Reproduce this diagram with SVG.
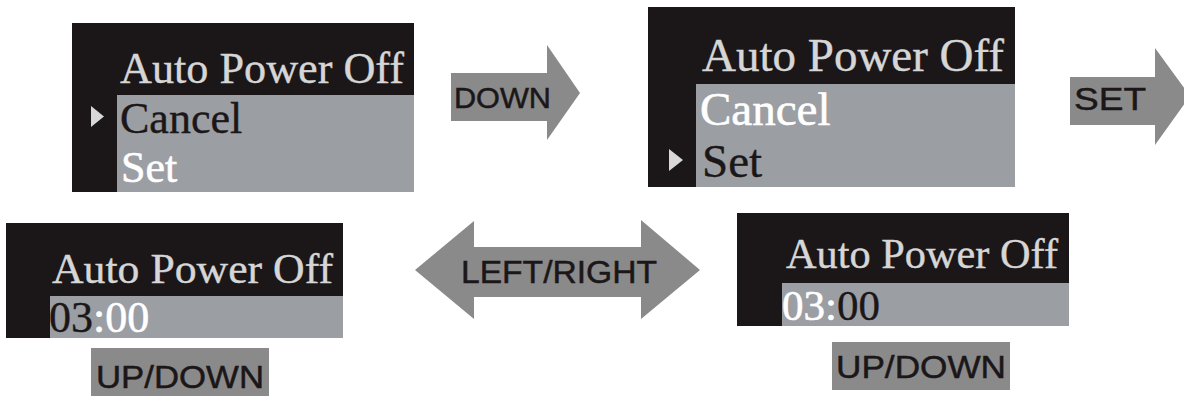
<svg xmlns="http://www.w3.org/2000/svg" width="1184" height="396" viewBox="0 0 1184 396">
<style>
.box{fill:#1b1718}
.sel{fill:#9b9ea3}
.ttl{font-family:"Liberation Serif","Times New Roman",serif;fill:#d6d6d6;stroke:#d6d6d6;stroke-width:0.4}
.itm{font-family:"Liberation Serif","Times New Roman",serif}
.dk{fill:#1b1718;stroke:#1b1718;stroke-width:0.4}
.wt{fill:#ffffff;stroke:#ffffff;stroke-width:0.6}
.ptr{fill:#d8d8d8}
.arw{fill:#8a8a8a}
.lbl{font-family:"Liberation Sans",Arial,sans-serif;fill:#1b1718;stroke:#1b1718;stroke-width:0.5}
</style>
<rect width="1184" height="396" fill="#ffffff"/>
<g id="menu-cancel">
<rect class="box" x="72" y="23" width="342" height="169"/>
<rect class="sel" x="117" y="95" width="297" height="97"/>
<text class="ttl" x="120" y="83" font-size="44" textLength="284" lengthAdjust="spacingAndGlyphs">Auto Power Off</text>
<polygon class="ptr" points="91,106 104,116.5 91,127"/>
<text class="itm dk" x="120" y="133" font-size="44">Cancel</text>
<text class="itm wt" x="121" y="182" font-size="44">Set</text>
</g>
<g id="menu-set">
<rect class="box" x="648" y="7" width="367" height="180"/>
<rect class="sel" x="696" y="84" width="319" height="103"/>
<text class="ttl" x="702" y="71" font-size="47" textLength="302" lengthAdjust="spacingAndGlyphs">Auto Power Off</text>
<text class="itm wt" x="700" y="125" font-size="47">Cancel</text>
<polygon class="ptr" points="669,149 683,160 669,171"/>
<text class="itm dk" x="702" y="177" font-size="47">Set</text>
</g>
<g id="time-left">
<rect class="box" x="6" y="223" width="337" height="115"/>
<rect class="sel" x="50" y="296" width="293" height="42"/>
<text class="ttl" x="52" y="283" font-size="43" textLength="281" lengthAdjust="spacingAndGlyphs">Auto Power Off</text>
<text class="itm" x="49" y="332" font-size="44"><tspan class="dk">03</tspan><tspan class="wt">:00</tspan></text>
</g>
<g id="time-right">
<rect class="box" x="737" y="213" width="332" height="113"/>
<rect class="sel" x="782" y="283" width="287" height="43"/>
<text class="ttl" x="786" y="268" font-size="42" textLength="272" lengthAdjust="spacingAndGlyphs">Auto Power Off</text>
<text class="itm" x="782" y="320" font-size="43"><tspan class="wt">03:</tspan><tspan class="dk">00</tspan></text>
</g>
<g id="connectors">
<g id="arrow-down">
<polygon class="arw" points="451,73 547,73 547,45 580,93 547,140 547,121 451,121"/>
<text class="lbl" x="454" y="108" font-size="29" textLength="97" lengthAdjust="spacingAndGlyphs">DOWN</text>
</g>
<g id="arrow-set">
<polygon class="arw" points="1070,77 1155,77 1155,48 1190,96 1155,145 1155,125 1070,125"/>
<text class="lbl" x="1074" y="110" font-size="32" textLength="72" lengthAdjust="spacingAndGlyphs">SET</text>
</g>
<g id="arrow-leftright">
<polygon class="arw" points="415,270 474,221 474,247 641,247 641,220 700,270 641,319 641,297 474,297 474,319"/>
<text class="lbl" x="461" y="283" font-size="32" textLength="196" lengthAdjust="spacingAndGlyphs">LEFT/RIGHT</text>
</g>
</g>
<g id="label-updown-left">
<rect class="arw" x="91" y="348" width="178" height="50"/>
<text class="lbl" x="96" y="388" font-size="32" textLength="168" lengthAdjust="spacingAndGlyphs">UP/DOWN</text>
</g>
<g id="label-updown-right">
<rect class="arw" x="832" y="342" width="178" height="48"/>
<text class="lbl" x="836" y="378" font-size="32" textLength="170" lengthAdjust="spacingAndGlyphs">UP/DOWN</text>
</g>
</svg>
